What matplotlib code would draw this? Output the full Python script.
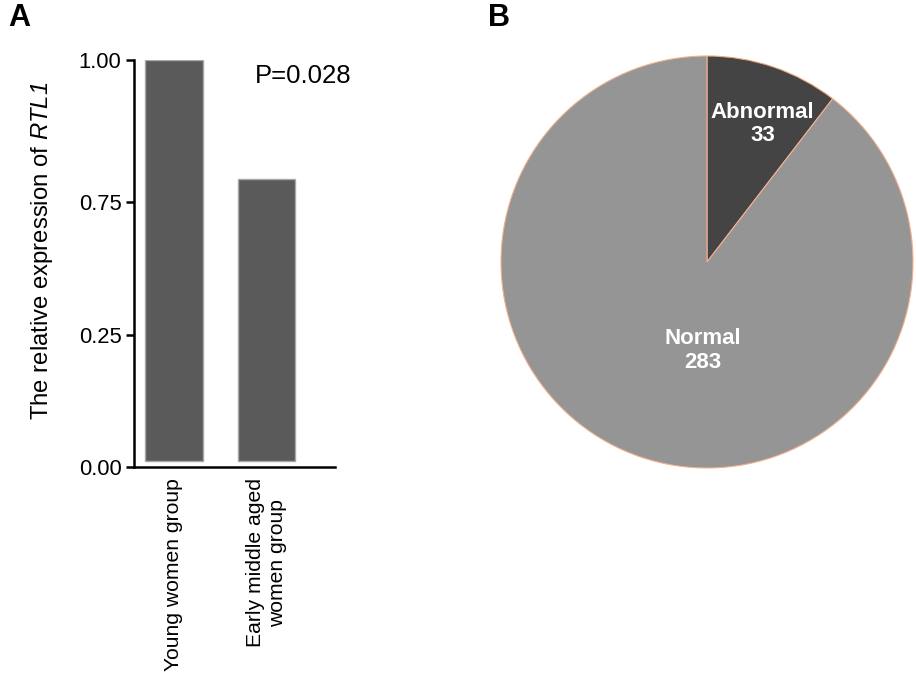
"""Panel A: relative RTL1 expression by age group; panel B: pie of normal/abnormal counts."""
import matplotlib
matplotlib.use("Agg")
import matplotlib.pyplot as plt
import numpy as np

plt.rcParams["font.family"] = ["Liberation Sans", "DejaVu Sans"]
# only the gene name goes through mathtext, so both slots can be italic
plt.rcParams["mathtext.fontset"] = "custom"
plt.rcParams["mathtext.rm"] = "Liberation Sans:italic"
plt.rcParams["mathtext.it"] = "Liberation Sans:italic"

groups = ["Young women group", "Early middle aged\nwomen group"]
expression = [1.00, 0.79]
p_value_text = "P=0.028"
y_ticks = [0.00, 0.25, 0.75, 1.00]
# where each tick sits on the (uneven) axis, in relative units
y_tick_pos = [0, 132, 265, 407]

pie_labels = ["Abnormal", "Normal"]
pie_counts = [33, 283]

W, H = 916, 677
fig = plt.figure(figsize=(W / 100, H / 100), dpi=100)


def fwd(v):
    return np.interp(v, y_ticks, y_tick_pos)


def inv(p):
    return np.interp(p, y_tick_pos, y_ticks)


# --- A: bar chart
ax = fig.add_axes([134 / W, (H - 467) / H, (335 - 134) / W, (467 - 60) / H])
ax.set_yscale("function", functions=(fwd, inv))
base = 0.012
x = np.arange(len(groups))
ax.bar(x, np.array(expression) - base, bottom=base, width=0.62,
       color="#5a5a5a", edgecolor="#a8a8a8", linewidth=1.0)
ax.set_xlim(-0.43, 1.74)
ax.set_ylim(0, 1.0)
ax.set_yticks(y_ticks)
ax.set_yticklabels([f"{v:.2f}" for v in y_ticks], fontsize=15.8)
ax.set_xticks(x)
ax.set_xticklabels(groups, rotation=90, fontsize=15.2, ha="center", va="top",
                   multialignment="center")
ax.tick_params(axis="y", length=6, width=1.8, pad=3)
ax.tick_params(axis="x", length=0, pad=8)
for s in ("top", "right"):
    ax.spines[s].set_visible(False)
for s in ("left", "bottom"):
    ax.spines[s].set_linewidth(1.8)
ax.set_ylabel("The relative expression of $\\mathrm{RTL1}$", fontsize=17.2)
ax.yaxis.set_label_coords(-0.395, 0.53)
ax.text(0.60, 0.96, p_value_text, transform=ax.transAxes, fontsize=18.5,
        ha="left", va="center")
fig.text(8 / W, 1 - 18 / H, "A", fontsize=22, fontweight="bold", va="center")

# --- B: pie
r_px = 206 * 1.01
pax = fig.add_axes([(707 - r_px) / W, (H - 262 - r_px) / H, 2 * r_px / W, 2 * r_px / H])
wedges, _ = pax.pie(pie_counts, colors=["#444444", "#959595"], startangle=90,
                    counterclock=False,
                    wedgeprops=dict(edgecolor="#f0a682", linewidth=0.8))
wedges[1].set_edgecolor("#f3b08f")
pax.set_xlim(-1.01, 1.01)
pax.set_ylim(-1.01, 1.01)
pax.set_aspect("equal")
pax.text(0.27, 0.67, f"{pie_labels[0]}\n{pie_counts[0]}", color="white",
         fontsize=16, fontweight="bold", ha="center", va="center", linespacing=1.15)
pax.text(-0.02, -0.43, f"{pie_labels[1]}\n{pie_counts[1]}", color="white",
         fontsize=16, fontweight="bold", ha="center", va="center", linespacing=1.15)
fig.text(488 / W, 1 - 18 / H, "B", fontsize=22, fontweight="bold", va="center")

fig.savefig("out.png", dpi=100)
